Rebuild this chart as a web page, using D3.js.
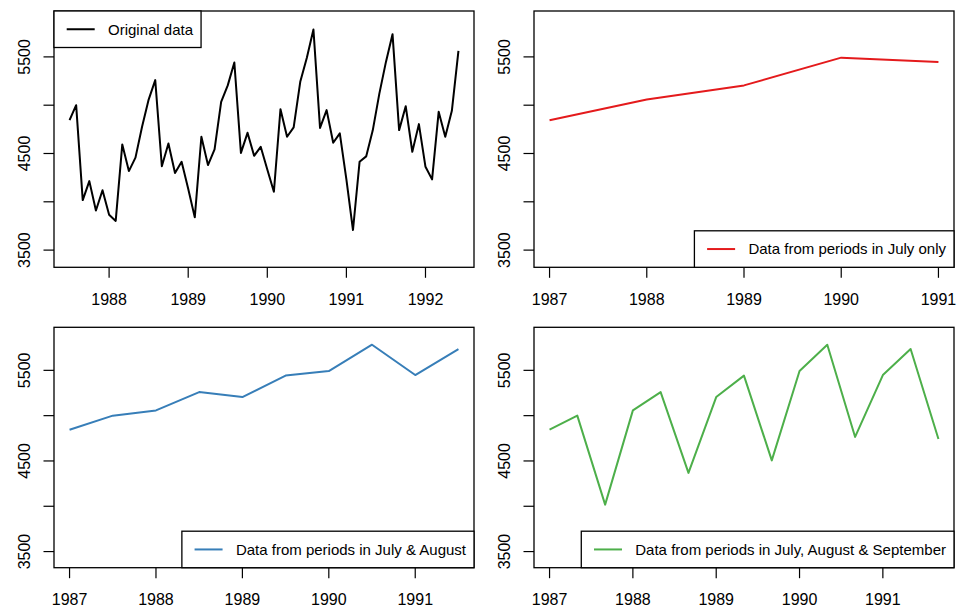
<!DOCTYPE html>
<html>
<head>
<meta charset="utf-8">
<script src="https://cdn.jsdelivr.net/npm/d3@7"></script>
<style>
  html, body { margin: 0; padding: 0; background: #fff; }
  svg { display: block; font-family: "Liberation Sans", Arial, Helvetica, sans-serif; }
</style>
</head>
<body>
<svg id="chart" width="959" height="608"></svg>
<script>
// monthly series, starts July 1987, frequency 12
const originalStart = 1987.5;
const originalFrequency = 12;
const originalValues = [
  4845, 5000, 4018, 4214, 3910, 4120,
  3865, 3802, 4594, 4318, 4457, 4776, 5058, 5260, 4368, 4604, 4298, 4414,
  4135, 3839, 4673, 4380, 4542, 5035, 5205, 5442, 4506, 4714, 4476, 4569,
  4335, 4104, 4959, 4673, 4770, 5242, 5492, 5783, 4765, 4949, 4611, 4708,
  4232, 3708, 4414, 4470, 4740, 5120, 5448, 5735, 4742, 4990, 4518, 4804,
  4362, 4232, 4931, 4673, 4942, 5562
];

// July only
const julyTime = [1987, 1988, 1989, 1990, 1991];
const julyValues = [4845, 5058, 5205, 5492, 5448];

// July & August
const julyAugTime = [1987, 1987.5, 1988, 1988.5, 1989, 1989.5, 1990, 1990.5, 1991, 1991.5];
const julyAugValues = [4845, 5000, 5058, 5260, 5205, 5442, 5492, 5783, 5448, 5735];

// July, August & September
const julyAugSepTime = [
  1987, 1987.333, 1987.667, 1988, 1988.333, 1988.667, 1989, 1989.333, 1989.667,
  1990, 1990.333, 1990.667, 1991, 1991.333, 1991.667
];
const julyAugSepValues = [
  4845, 5000, 4018, 5058, 5260, 4368, 5205, 5442, 4506,
  5492, 5783, 4765, 5448, 5735, 4742
];

const yDomain = [3322, 5975];
const yTicks = [3500, 4000, 4500, 5000, 5500];
const yLabelled = [3500, 4500, 5500];

const originalTime = originalValues.map((d, i) => originalStart + i / originalFrequency);

const panels = [
  { time: originalTime, values: originalValues, color: "#000000",
    xTicks: [1988, 1989, 1990, 1991, 1992], label: "Original data", legend: "topleft",
    box: { x0: 54, x1: 474, y0: 11, y1: 267.3 } },
  { time: julyTime, values: julyValues, color: "#E41A1C",
    xTicks: [1987, 1988, 1989, 1990, 1991], label: "Data from periods in July only", legend: "bottomright",
    box: { x0: 534, x1: 954, y0: 11, y1: 267.3 } },
  { time: julyAugTime, values: julyAugValues, color: "#377EB8",
    xTicks: [1987, 1988, 1989, 1990, 1991], label: "Data from periods in July & August", legend: "bottomright",
    box: { x0: 54, x1: 474, y0: 327.3, y1: 567.7 } },
  { time: julyAugSepTime, values: julyAugSepValues, color: "#4DAF4A",
    xTicks: [1987, 1988, 1989, 1990, 1991], label: "Data from periods in July, August & September", legend: "bottomright",
    box: { x0: 534, x1: 954, y0: 327.3, y1: 567.7 } },
];

const svg = d3.select("#chart");
const TICK = 10.5;

// R-style 4% padding of the data range
function padded(ext) {
  const d = (ext[1] - ext[0]) * 0.04;
  return [ext[0] - d, ext[1] + d];
}

panels.forEach((p) => {
  const b = p.box;
  const x = d3.scaleLinear().domain(padded(d3.extent(p.time))).range([b.x0, b.x1]);
  const y = d3.scaleLinear().domain(yDomain).range([b.y1, b.y0]);

  const g = svg.append("g");

  // data line
  const pts = p.time.map((t, i) => [t, p.values[i]]);
  g.append("path")
    .datum(pts)
    .attr("fill", "none")
    .attr("stroke", p.color)
    .attr("stroke-width", 2)
    .attr("stroke-linejoin", "round")
    .attr("d", d3.line().x((d) => x(d[0])).y((d) => y(d[1])));

  // x axis
  const xa = g.append("g");
  xa.selectAll("line")
    .data(p.xTicks)
    .join("line")
    .attr("x1", (d) => x(d)).attr("x2", (d) => x(d))
    .attr("y1", b.y1).attr("y2", b.y1 + TICK)
    .attr("stroke", "#000").attr("stroke-width", 1.2);
  xa.selectAll("text")
    .data(p.xTicks)
    .join("text")
    .attr("x", (d) => x(d))
    .attr("y", b.y1 + 37.4)
    .attr("text-anchor", "middle")
    .attr("font-size", 16)
    .text((d) => d);

  // y axis
  const ya = g.append("g");
  ya.selectAll("line")
    .data(yTicks)
    .join("line")
    .attr("x1", b.x0 - TICK).attr("x2", b.x0)
    .attr("y1", (d) => y(d)).attr("y2", (d) => y(d))
    .attr("stroke", "#000").attr("stroke-width", 1.2);
  ya.selectAll("text")
    .data(yLabelled)
    .join("text")
    .attr("transform", (d) => `translate(${b.x0 - 24},${y(d)}) rotate(-90)`)
    .attr("text-anchor", "middle")
    .attr("font-size", 16)
    .text((d) => d);

  // frame
  g.append("rect")
    .attr("x", b.x0).attr("y", b.y0)
    .attr("width", b.x1 - b.x0).attr("height", b.y1 - b.y0)
    .attr("fill", "none").attr("stroke", "#000").attr("stroke-width", 1.3);

  // legend
  const lg = g.append("g");
  const txt = lg.append("text")
    .attr("font-size", 15)
    .text(p.label);
  const tw = txt.node().getComputedTextLength();
  const lw = 12.7 + 28 + 13.3 + tw + 8;
  const lh = 36.5;
  const lx = p.legend === "topleft" ? b.x0 : b.x1 - lw;
  const ly = p.legend === "topleft" ? b.y0 : b.y1 - lh;
  lg.insert("rect", "text")
    .attr("x", lx).attr("y", ly)
    .attr("width", lw).attr("height", lh)
    .attr("fill", "#fff").attr("stroke", "#000").attr("stroke-width", 1.3);
  lg.append("line")
    .attr("x1", lx + 12.7).attr("x2", lx + 40.7)
    .attr("y1", ly + lh / 2).attr("y2", ly + lh / 2)
    .attr("stroke", p.color).attr("stroke-width", 2);
  txt.attr("x", lx + 54).attr("y", ly + lh / 2 + 5.3);
});
</script>
</body>
</html>
